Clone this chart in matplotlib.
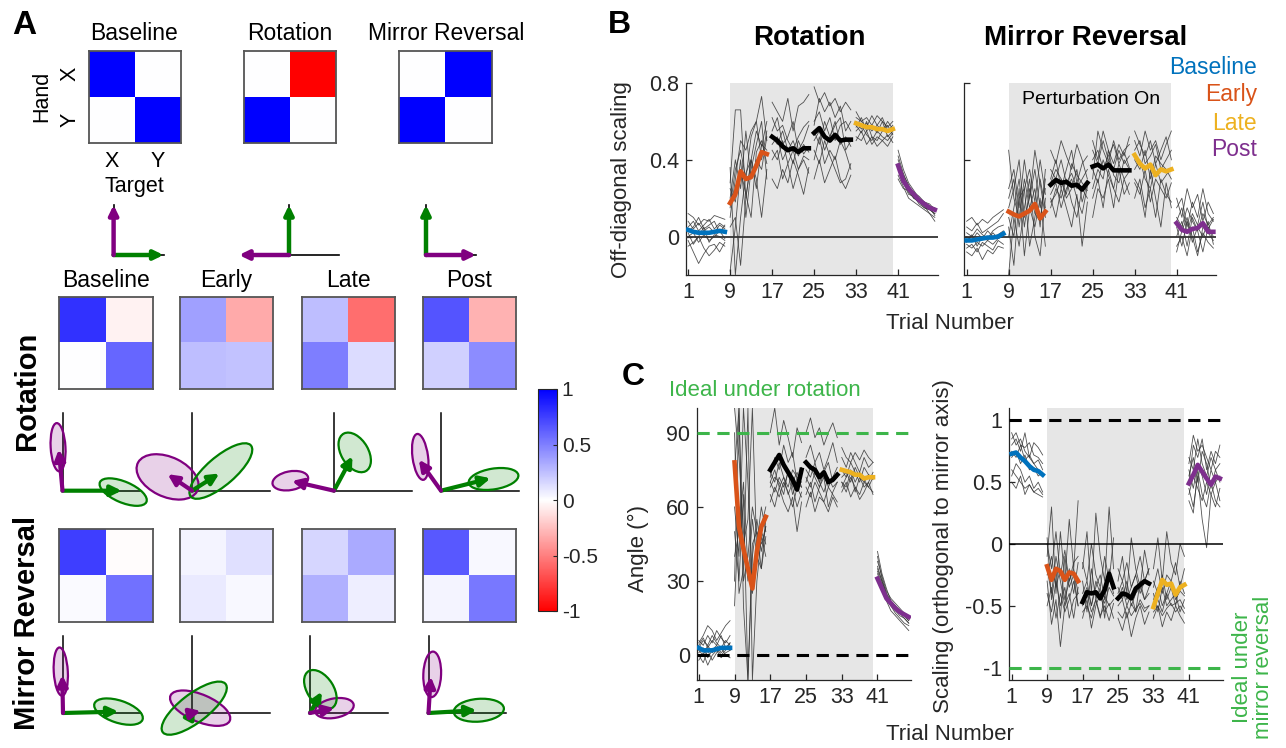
import numpy as np
import matplotlib
matplotlib.use("Agg")
import matplotlib.pyplot as plt
from matplotlib.colors import LinearSegmentedColormap, Normalize
from matplotlib.cm import ScalarMappable
from matplotlib.patches import Ellipse

plt.rcParams['font.family'] = ['Liberation Sans', 'DejaVu Sans']
plt.rcParams['axes.unicode_minus'] = False

# ---------------- data ----------------
# panel A top: ideal mappings (rows = hand X/Y, cols = target X/Y)
ideal_titles = ['Baseline', 'Rotation', 'Mirror Reversal']
ideal_mats = [[[1, 0], [0, 1]], [[0, -1], [1, 0]], [[0, 1], [1, 0]]]

# panel A: fitted mappings per stage
stage_titles = ['Baseline', 'Early', 'Late', 'Post']
rot_mats = [[[0.80, -0.05], [0.00, 0.60]],
            [[0.37, -0.33], [0.25, 0.24]],
            [[0.25, -0.57], [0.50, 0.14]],
            [[0.67, -0.30], [0.18, 0.45]]]
mir_mats = [[[0.75, -0.01], [0.02, 0.55]],
            [[0.04, 0.12], [0.08, 0.03]],
            [[0.16, 0.33], [0.31, 0.07]],
            [[0.65, 0.03], [0.04, 0.53]]]

# covariance ellipses (cx, cy, major, minor, angle)
rot_green_ell = [(0.82, -0.02, 0.69, 0.30, -25), (0.39, 0.285, 1.10, 0.40, 43),
                 (0.28, 0.555, 0.62, 0.37, 118), (0.71, 0.17, 0.68, 0.30, 10)]
rot_purple_ell = [(-0.06, 0.63, 0.70, 0.20, 93), (-0.33, 0.20, 0.90, 0.57, -28),
                  (-0.59, 0.145, 0.49, 0.27, 12), (-0.28, 0.49, 0.67, 0.21, 97)]
mir_green_ell = [(0.75, 0.02, 0.69, 0.32, -20), (0.03, 0.07, 1.10, 0.40, 40),
                 (0.14, 0.34, 0.62, 0.36, 120), (0.68, 0.04, 0.68, 0.33, 5)]
mir_purple_ell = [(-0.03, 0.60, 0.70, 0.19, 93), (0.11, 0.07, 0.88, 0.39, -25),
                  (0.33, 0.07, 0.53, 0.28, 12), (0.05, 0.56, 0.66, 0.24, 88)]

# panels B and C: 48 trials, 6 blocks of 8
trials = np.arange(1, 49)
xticks = [1, 9, 17, 25, 33, 41]
block_colors = ['#0072BD', '#D95319', 'black', 'black', '#EDB120', '#7E2F8E']

rot_mean = [0.035, 0.025, 0.02, 0.02, 0.02, 0.025, 0.03, 0.025,
            0.175, 0.22, 0.34, 0.30, 0.31, 0.37, 0.44, 0.43,
            0.52, 0.50, 0.47, 0.45, 0.46, 0.44, 0.46, 0.46,
            0.54, 0.565, 0.52, 0.50, 0.53, 0.50, 0.505, 0.505,
            0.59, 0.58, 0.57, 0.57, 0.56, 0.56, 0.55, 0.56,
            0.37, 0.29, 0.25, 0.22, 0.19, 0.17, 0.15, 0.14]
mir_mean = [-0.02, -0.02, -0.015, -0.01, -0.005, -0.005, 0.0, 0.015,
            0.13, 0.115, 0.105, 0.12, 0.135, 0.17, 0.095, 0.13,
            0.27, 0.295, 0.28, 0.285, 0.265, 0.27, 0.245, 0.28,
            0.365, 0.375, 0.355, 0.375, 0.345, 0.345, 0.345, 0.345,
            0.425, 0.38, 0.355, 0.375, 0.32, 0.35, 0.34, 0.35,
            0.07, 0.035, 0.025, 0.04, 0.045, 0.07, 0.025, 0.025]
ang_mean = [3, 2, 2, 2, 2.5, 3, 3, 3,
            78, 52, 43, 35, 27, 42, 52, 56,
            75, 78, 81, 77, 74, 71, 67, 75,
            78, 76, 75, 72, 74, 70, 71, 73,
            75, 74.5, 74, 73, 73, 71.5, 72, 72,
            31, 27, 23, 21, 19, 17.5, 16.5, 15.5]
scl_mean = [0.73, 0.74, 0.70, 0.67, 0.63, 0.60, 0.59, 0.56,
            -0.18, -0.29, -0.20, -0.22, -0.29, -0.23, -0.24, -0.30,
            -0.47, -0.39, -0.40, -0.39, -0.44, -0.37, -0.24, -0.35,
            -0.44, -0.40, -0.41, -0.44, -0.36, -0.33, -0.30, -0.32,
            -0.51, -0.40, -0.29, -0.33, -0.32, -0.41, -0.35, -0.33,
            0.49, 0.56, 0.64, 0.585, 0.53, 0.48, 0.545, 0.53]

# individual subjects (hundredths for B and C-right, degrees for C-left)
rot_subj = [
    [5, 8, 3, 6, 9, 4, 7, 5, 28, 66, 66, 20, 40, 55, 47, 60, 55, 62, 48, 52, 60, 45, 50, 58, 58, 72, 65, 70, 62, 68, 55, 60, 62, 60, 57, 63, 58, 55, 60, 56, 45, 35, 28, 24, 20, 18, 16, 15],
    [-2, -8, -14, -9, -5, -4, -8, -3, -18, 5, 35, 22, 10, 44, 50, 38, 40, 45, 30, 38, 25, 35, 40, 33, 30, 40, 28, 35, 42, 30, 25, 32, 50, 55, 48, 52, 47, 50, 53, 49, 38, 30, 25, 20, 18, 16, 12, 10],
    [12, 10, 6, 9, 8, 11, 10, 9, 10, 30, 50, 45, 55, 60, 73, 50, 70, 65, 60, 72, 55, 68, 70, 74, 78, 70, 75, 68, 72, 65, 70, 66, 65, 60, 62, 58, 63, 60, 57, 60, 40, 32, 27, 22, 20, 17, 15, 13],
    [0, 2, -3, 1, -2, 0, 3, -1, 36, -20, 10, 33, 40, 25, 48, 45, 48, 52, 40, 46, 38, 50, 43, 47, 50, 55, 45, 52, 60, 48, 52, 47, 55, 58, 53, 50, 55, 52, 50, 54, 35, 28, 22, 21, 17, 15, 14, 12],
    [3, 5, 10, 4, 6, 8, 2, 6, 20, 40, 25, 55, 30, 40, 35, 52, 30, 25, 35, 28, 40, 32, 22, 36, 45, 38, 50, 42, 35, 28, 30, 38, 57, 62, 55, 58, 54, 60, 52, 55, 30, 25, 24, 20, 19, 16, 15, 11],
    [-5, -3, 0, -6, -10, -7, -3, -5, 5, 10, -15, 20, 40, 30, 10, 35, 52, 48, 55, 45, 50, 42, 48, 44, 60, 65, 55, 62, 50, 58, 60, 55, 60, 56, 59, 55, 58, 62, 55, 58, 32, 26, 20, 18, 16, 14, 12, 8],
    [8, 4, 7, 3, 5, 2, 6, 4, 15, 35, 45, 30, 52, 60, 40, 55, 62, 55, 58, 50, 45, 52, 57, 60, 55, 48, 60, 52, 58, 62, 45, 50, 52, 50, 55, 48, 52, 50, 47, 52, 42, 33, 26, 23, 21, 18, 17, 14],
    [2, -4, 0, 5, -3, 1, 0, -2, 25, 18, 40, 10, 35, 48, 60, 30, 45, 40, 50, 38, 45, 35, 42, 40, 40, 52, 38, 45, 40, 50, 44, 35, 58, 54, 60, 52, 50, 55, 58, 53, 36, 29, 23, 20, 18, 15, 14, 12]]
mir_subj = [
    [5, 3, 7, 2, 4, 6, 8, 12, 45, 20, 10, 30, 15, 25, 5, 35, 30, 40, 25, 35, 45, 28, 38, 42, 50, 40, 55, 45, 38, 48, 42, 52, 55, 48, 42, 50, 38, 45, 52, 40, 15, 20, 5, 18, 10, 25, 12, 8],
    [-8, -10, -6, -12, -7, -9, -5, -6, -20, 10, -5, 15, 30, 0, -10, 20, 20, 10, 25, 15, 5, 22, -5, 18, 20, 30, 15, 35, 25, 18, 30, 22, 30, 25, 10, 35, 20, 5, 28, 15, -5, 0, -10, 5, -8, 2, -3, -6],
    [0, -2, 2, -1, 3, 0, 1, 3, 15, 25, 40, 10, 20, 35, 15, 25, 35, 30, 40, 28, 33, 25, 30, 35, 40, 45, 35, 42, 48, 38, 44, 36, 45, 50, 38, 42, 48, 35, 40, 45, 10, 5, 15, 8, 3, 12, 6, 10],
    [-4, -6, -3, -5, -2, -4, -1, 0, 5, -15, 20, 25, -5, 10, 30, 15, 15, 25, 20, 30, 18, 10, 25, 20, 10, 25, 20, 30, 15, 35, 22, 28, 35, 40, 30, 25, 38, 28, 32, 36, 5, -5, 8, 0, -10, 5, 2, -2],
    [8, 10, 6, 9, 7, 10, 12, 14, 25, 35, 15, 40, 20, 45, 28, 10, 45, 38, 50, 42, 35, 48, 40, 30, 30, 55, 45, 38, 50, 40, 45, 48, 50, 42, 55, 45, 50, 40, 48, 55, 20, 10, 25, 15, 22, 8, 18, 12],
    [-6, -4, -8, -3, -5, -7, -2, -4, 10, 0, 25, -10, 15, 5, 20, -5, 22, 28, 15, 25, 30, 20, 12, 26, 35, 28, 40, 32, 25, 38, 30, 34, 20, 30, 15, 25, 10, 30, 22, 18, 0, 8, -5, 10, 3, -8, 5, 0],
    [2, 0, 4, 1, -1, 3, 5, 6, 20, 30, 5, 25, 35, 18, 40, 22, 28, 35, 30, 22, 38, 32, 28, 24, 45, 38, 50, 40, 35, 45, 38, 42, 40, 35, 45, 30, 42, 38, 35, 30, 8, 15, 2, 12, 6, 18, 4, 9],
    [-3, 1, -5, 0, -2, 2, -1, 1, 0, 15, 30, 5, 25, 12, 8, 30, 18, 22, 30, 20, 25, 35, 18, 28, 25, 35, 30, 45, 32, 28, 40, 35, 28, 22, 35, 18, 30, 25, 20, 28, -8, 3, 10, -3, 5, 0, 8, -4]]
ang_subj = [
    [5, 8, 12, 10, 6, 9, 12, 14, 100, 80, 50, 30, 55, 40, 52, 60, 70, 75, 68, 72, 65, 70, 74, 68, 75, 72, 78, 70, 74, 68, 72, 76, 75, 72, 78, 74, 70, 76, 73, 71, 42, 33, 27, 22, 20, 18, 17, 16],
    [0, -3, 2, -2, 1, 3, 0, -1, 30, 100, 20, -10, 45, 50, 35, 48, 68, 72, 70, 65, 75, 68, 60, 66, 65, 70, 62, 68, 72, 60, 66, 70, 70, 68, 74, 66, 72, 68, 70, 74, 35, 30, 24, 20, 17, 15, 13, 12],
    [3, 6, 4, 8, 5, 3, 6, 4, 60, 40, 100, 70, 30, 45, 60, 50, 72, 80, 75, 85, 78, 82, 70, 76, 80, 85, 78, 82, 75, 80, 86, 78, 80, 76, 82, 78, 74, 80, 76, 78, 38, 32, 26, 23, 21, 19, 17, 15],
    [-2, 1, -4, 0, 2, -1, 1, 2, 90, 25, 35, 100, -10, 30, 48, 40, 65, 60, 68, 62, 58, 64, 50, 62, 60, 66, 58, 64, 62, 58, 64, 60, 66, 70, 64, 68, 63, 66, 70, 65, 30, 26, 22, 18, 16, 14, 12, 10],
    [6, 4, 8, 5, 10, 7, 5, 8, 20, 60, 45, 55, 100, 40, 35, 55, 90, 100, 85, 95, 88, 80, 92, 86, 90, 96, 88, 92, 85, 90, 94, 88, 84, 80, 78, 82, 79, 83, 80, 78, 40, 31, 25, 21, 19, 17, 16, 14],
    [2, 0, 4, 1, 3, 0, 2, 5, 50, 30, 65, -10, 40, 55, 42, 52, 70, 66, 72, 68, 74, 65, 70, 68, 72, 68, 74, 70, 66, 72, 68, 70, 72, 74, 70, 76, 72, 70, 73, 72, 33, 28, 23, 20, 18, 16, 15, 13],
    [4, 7, 3, 6, 4, 8, 3, 5, 75, 100, 30, 40, 60, 50, 45, 52, 74, 70, 78, 72, 68, 75, 72, 70, 70, 76, 72, 68, 74, 78, 70, 72, 68, 72, 75, 70, 74, 71, 68, 72, 36, 30, 25, 22, 20, 18, 16, 14],
    [1, 3, -1, 2, 4, 1, 3, 2, 40, 50, 70, 35, 25, 38, 50, 45, 62, 68, 64, 70, 66, 60, 68, 64, 68, 64, 70, 66, 62, 68, 65, 62, 70, 66, 72, 68, 65, 70, 68, 66, 34, 29, 24, 21, 19, 17, 15, 13]]
scl_subj = [
    [80, 85, 75, 90, 70, 82, 78, 72, -10, 30, -40, 10, -30, 20, -20, 35, -20, 10, -40, 25, -10, -30, 30, -20, -30, -10, -40, 5, -20, -35, -5, -25, -20, 5, -30, 10, -15, -25, 0, -10, 50, 80, 70, 85, 60, 75, 65, 80],
    [60, 55, 50, 45, 48, 42, 40, 38, -50, -35, -60, -40, -55, -45, -30, -50, -55, -50, -60, -45, -58, -50, -62, -48, -55, -60, -50, -58, -52, -48, -55, -50, -55, -50, -58, -52, -48, -55, -50, -56, 40, 55, 45, 35, 50, 40, 30, 45],
    [90, 80, 85, 75, 70, 65, 68, 60, -20, -40, -10, -30, -50, -20, -40, -15, -40, -30, -50, -35, -25, -45, -20, -35, -40, -30, -45, -35, -25, -40, -30, -20, -30, -40, -25, -45, -35, -50, -30, -40, 70, 60, 85, 65, 55, 70, 60, 65],
    [55, 65, 60, 50, 55, 45, 50, 42, 5, -45, -20, -60, -10, -35, -25, -50, -30, -55, -20, -45, -35, -60, -25, -40, -45, -35, -50, -40, -55, -30, -45, -35, -40, -55, -35, -50, -45, -40, -55, -45, 35, 25, 60, 40, 30, 50, 35, 30],
    [70, 75, 65, 72, 60, 62, 55, 58, -30, -65, -45, -83, -50, -40, -60, -35, -60, -45, -68, -50, -40, -55, -48, -60, -60, -70, -55, -75, -60, -50, -65, -55, -60, -50, -67, -55, -62, -50, -58, -64, 55, 70, 50, 75, 65, 45, 60, 50],
    [75, 70, 80, 68, 72, 65, 60, 55, -25, -10, -35, -20, -45, -30, -20, -40, -45, -35, -50, -30, -40, -48, -35, -42, -35, -45, -30, -50, -40, -35, -45, -40, -45, -35, -50, -40, -30, -45, -38, -42, 60, 45, 65, 55, 40, 60, 50, 55],
    [85, 90, 80, 78, 82, 72, 70, 65, 0, -20, 10, -25, -5, -30, -15, -10, -15, -30, 0, -25, -35, -10, -30, 5, -20, -30, -15, -35, -25, -10, -30, -20, -35, -20, -40, -25, -30, -15, -35, -20, 65, 88, 75, 80, 70, 60, 75, 70],
    [50, 45, 55, 40, 48, 42, 45, 40, -40, -55, -30, -50, -35, -60, -45, -40, -50, -40, -55, -45, -60, -42, -50, -45, -50, -45, -60, -48, -55, -45, -52, -50, -50, -45, -55, -40, -50, -48, -45, -52, 45, 30, 55, 20, -3, 40, 50, 35]]

# ---------------- figure ----------------
W, H = 1286, 748
fig = plt.figure(figsize=(W / 100, H / 100), dpi=100)
cmap = LinearSegmentedColormap.from_list('rwb', ['#ff0000', '#ffffff', '#0000ff'])
GREEN, PURPLE = '#008000', '#800080'
IDEAL = '#3DB54A'
SHADE = '#e6e6e6'


def px_axes(x0, y0, x1, y1):
    return fig.add_axes([x0 / W, 1 - y1 / H, (x1 - x0) / W, (y1 - y0) / H])


def ftext(x, y, s, **kw):
    fig.text(x / W, 1 - y / H, s, **kw)


def draw_matrix(ax, m):
    ax.imshow(np.array(m), cmap=cmap, vmin=-1, vmax=1, aspect='auto')
    ax.set_xticks([])
    ax.set_yticks([])
    for s in ax.spines.values():
        s.set_color('#555555')
        s.set_linewidth(1.3)


def arrow(ax, tip, color, lw=3, ms=14):
    ax.annotate('', xy=tip, xytext=(0, 0), annotation_clip=False,
                arrowprops=dict(arrowstyle='-|>,head_length=0.45,head_width=0.22',
                                color=color, lw=lw, mutation_scale=ms,
                                shrinkA=0, shrinkB=0))


# panel A top row
ftext(12, 25, 'A', fontsize=24, fontweight='bold', va='center')
mat_x = [(88.5, 180.5), (243.5, 335.5), (399.5, 492)]
for i, (x0, x1) in enumerate(mat_x):
    ax = px_axes(x0, 50.7, x1, 142.7)
    draw_matrix(ax, ideal_mats[i])
    ax.set_title(ideal_titles[i], fontsize=16.5, pad=8)
    if i == 0:
        ax.set_xticks([0, 1], ['X', 'Y'], fontsize=15.5)
        ax.set_yticks([0, 1], ['X', 'Y'], fontsize=15.5, rotation=90, va='center')
        ax.tick_params(length=0, pad=6)
        ax.set_xlabel('Target', fontsize=15.5, labelpad=3)
        ax.set_ylabel('Hand', fontsize=15.5, labelpad=5)

# schematic arrows
sc = 50
for i, ox in enumerate([113.6, 289, 426]):
    oy = 255
    ax = px_axes(ox - 1.2 * sc, oy - 1.15 * sc, ox + 1.2 * sc, oy + 0.2 * sc)
    ax.set_xlim(-1.2, 1.2)
    ax.set_ylim(-0.2, 1.15)
    ax.axis('off')
    ax.plot([0, 1], [0, 0], color='black', lw=1.2)
    ax.plot([0, 0], [0, 1], color='black', lw=1.2)
    m = np.array(ideal_mats[i])
    arrow(ax, (m[0, 0], m[1, 0]), GREEN, lw=3.2, ms=12)
    arrow(ax, (m[0, 1], m[1, 1]), PURPLE, lw=3.2, ms=12)

# stage matrices
stage_x = [(59, 153), (180, 273), (302, 395), (422.5, 515.5)]
for j, (x0, x1) in enumerate(stage_x):
    ax = px_axes(x0, 296.7, x1, 389.3)
    draw_matrix(ax, rot_mats[j])
    ax.set_title(stage_titles[j], fontsize=16.5, pad=7)
    ax = px_axes(x0, 529, x1, 622)
    draw_matrix(ax, mir_mats[j])

ftext(27, 391, 'Rotation', fontsize=21, fontweight='bold', rotation=90,
      ha='center', va='center')
ftext(27, 623, 'Mirror Reversal', fontsize=21, fontweight='bold', rotation=90,
      ha='center', va='center')

# ellipse panels (x and y pixel scales per unit)
esx, esy = 74, 69
rot_origins = [(62.5, 490.7), (192, 490.7), (334, 490.7), (441, 490.7)]
mir_origins = [(63, 713), (192, 713), (310, 713), (428.5, 713)]
for origins, mats, gell, pell in [(rot_origins, rot_mats, rot_green_ell, rot_purple_ell),
                                  (mir_origins, mir_mats, mir_green_ell, mir_purple_ell)]:
    for j, (ox, oy) in enumerate(origins):
        ax = px_axes(ox - 1.0 * esx, oy - 1.15 * esy, ox + 1.25 * esx, oy + 0.45 * esy)
        ax.set_xlim(-1.0, 1.25)
        ax.set_ylim(-0.45, 1.15)
        ax.axis('off')
        ax.plot([0, 0], [0, 1.12], color='black', lw=1.1, zorder=1)
        ax.plot([0, 1.05], [0, 0], color='black', lw=1.1, zorder=1)
        for (cx, cy, a, b, ang), col in [(pell[j], PURPLE), (gell[j], GREEN)]:
            ax.add_patch(Ellipse((cx, cy), a, b, angle=ang, facecolor=col, alpha=0.18,
                                 edgecolor='none', clip_on=False, zorder=2))
            ax.add_patch(Ellipse((cx, cy), a, b, angle=ang, facecolor='none',
                                 edgecolor=col, lw=1.6, clip_on=False, zorder=3))
        m = np.array(mats[j])
        arrow(ax, (m[0, 0], m[1, 0]), GREEN)
        arrow(ax, (m[0, 1], m[1, 1]), PURPLE)

# colorbar
cax = px_axes(537.5, 389, 557, 611)
cb = fig.colorbar(ScalarMappable(norm=Normalize(-1, 1), cmap=cmap), cax=cax)
cb.set_ticks([-1, -0.5, 0, 0.5, 1], labels=['-1', '-0.5', '0', '0.5', '1'])
cb.ax.tick_params(labelsize=15, direction='in', length=3, colors='#262626')
cb.outline.set_color('#262626')


# ---------------- panels B and C ----------------
def trial_axes(ax, mean, subj, scale, xlim, ylim):
    ax.axvspan(9, 40, facecolor=SHADE, edgecolor='none', zorder=0)
    subj = np.array(subj, dtype=float) / scale
    for row in subj:
        for b in range(6):
            sl = slice(8 * b, 8 * b + 8)
            ax.plot(trials[sl], row[sl], color='#333333', lw=0.6, alpha=0.85, zorder=2)
    mean = np.array(mean, dtype=float)
    for b in range(6):
        sl = slice(8 * b, 8 * b + 8)
        ax.plot(trials[sl], mean[sl], color=block_colors[b], lw=3.3, zorder=4)
    ax.set_xlim(*xlim)
    ax.set_ylim(*ylim)
    ax.set_xticks(xticks)
    for s in ['top', 'right']:
        ax.spines[s].set_visible(False)
    for s in ['left', 'bottom']:
        ax.spines[s].set_color('#262626')
        ax.spines[s].set_linewidth(0.9)
    ax.tick_params(direction='in', length=4, width=0.9, colors='#262626',
                   labelsize=15.5, pad=5)


ftext(608, 25, 'B', fontsize=23, fontweight='bold', va='center')
axb1 = px_axes(686, 83, 938, 275)
trial_axes(axb1, rot_mean, rot_subj, 100, (0.6, 48.6), (-0.2, 0.8))
axb1.set_yticks([0, 0.4, 0.8], ['0', '0.4', '0.8'])
axb1.axhline(0, color='#333333', lw=1.3, zorder=3)
axb2 = px_axes(964, 83, 1216, 275)
trial_axes(axb2, mir_mean, mir_subj, 100, (0.5, 48.5), (-0.2, 0.8))
axb2.set_yticks([0, 0.4, 0.8], [])
axb2.axhline(0, color='#333333', lw=1.3, zorder=3)
ftext(809, 38, 'Rotation', fontsize=20, fontweight='bold', ha='center', va='center')
ftext(1086, 38, 'Mirror Reversal', fontsize=20, fontweight='bold', ha='center', va='center')
ftext(1091, 100, 'Perturbation On', fontsize=14, ha='center', va='center')
for lab, col, y in zip(['Baseline', 'Early', 'Late', 'Post'],
                       ['#0072BD', '#D95319', '#EDB120', '#7E2F8E'], [67, 95, 123, 150]):
    ftext(1257, y, lab, fontsize=16.5, color=col, ha='right', va='center')
ftext(622, 180, 'Off-diagonal scaling', fontsize=16, rotation=90, ha='center',
      va='center', color='#262626')
ftext(950, 323, 'Trial Number', fontsize=16, ha='center', va='center', color='#262626')

ftext(622, 377, 'C', fontsize=23, fontweight='bold', va='center')
axc1 = px_axes(697, 408, 911, 680)
trial_axes(axc1, ang_mean, ang_subj, 1, (0.6, 48.5), (-10, 100))
axc1.set_yticks([0, 30, 60, 90])
axc1.axhline(90, color=IDEAL, lw=2.2, ls=(0, (4, 2.5)), zorder=5)
axc1.axhline(0, color='black', lw=2.2, ls=(0, (4, 2.5)), zorder=5)
ftext(765, 391, 'Ideal under rotation', fontsize=16, color=IDEAL, ha='center', va='center')
ftext(638, 548, 'Angle (°)', fontsize=16, rotation=90, ha='center', va='center',
      color='#262626')

axc2 = px_axes(1009, 408, 1223, 680)
trial_axes(axc2, scl_mean, scl_subj, 100, (0.4, 48.7), (-1.1, 1.1))
axc2.set_yticks([-1, -0.5, 0, 0.5, 1], ['-1', '-0.5', '0', '0.5', '1'])
axc2.axhline(0, color='black', lw=1.1, zorder=3)
axc2.axhline(1, color='black', lw=2.2, ls=(0, (4, 2.5)), zorder=5)
axc2.axhline(-1, color=IDEAL, lw=2.2, ls=(0, (4, 2.5)), zorder=5)
ftext(943, 546, 'Scaling (orthogonal to mirror axis)', fontsize=16, rotation=90,
      ha='center', va='center', color='#262626')
ftext(1253, 667, 'Ideal under\nmirror reversal', fontsize=16, rotation=90, color=IDEAL,
      ha='center', va='center', multialignment='center', linespacing=1.05)
ftext(950, 735, 'Trial Number', fontsize=16, ha='center', va='center', color='#262626')

fig.savefig('out.png', dpi=100)
